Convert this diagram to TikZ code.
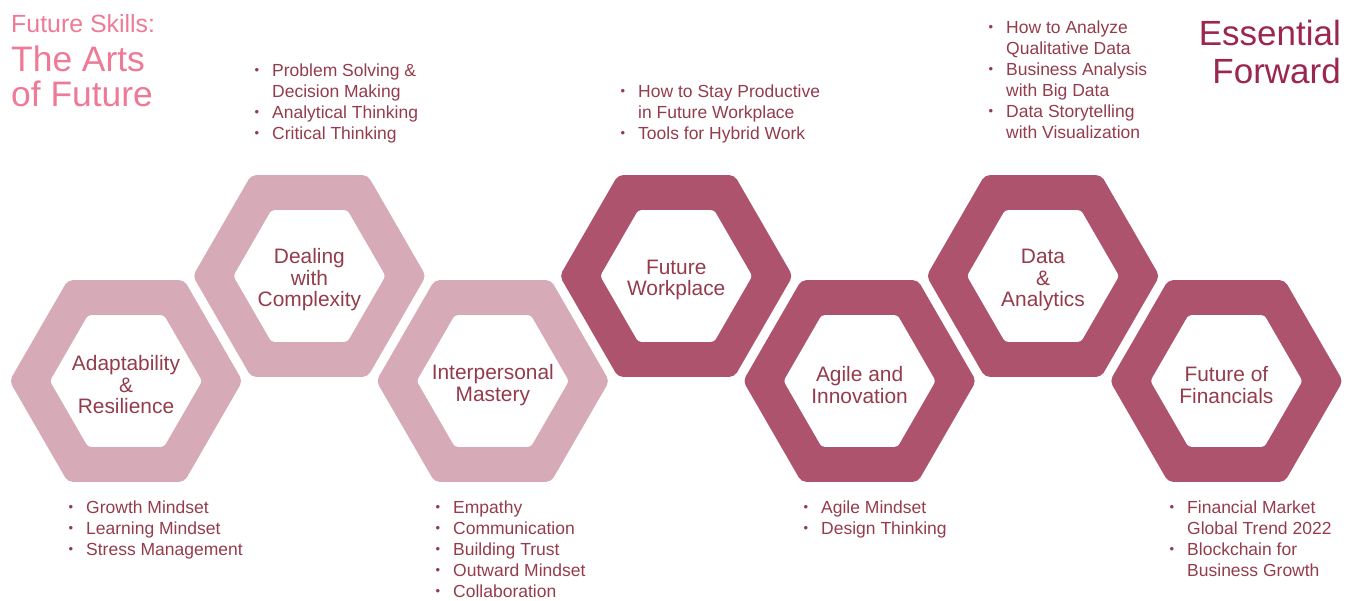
\documentclass[tikz,border=0pt]{standalone}
\usepackage{fontspec}
\setmainfont{Liberation Sans}
\usepackage{xcolor}
\usetikzlibrary{shapes.geometric,positioning}
\definecolor{softrose} {RGB}{214,170,182}
\definecolor{deeprose} {RGB}{173,83,109}
\definecolor{labelred} {RGB}{148,60,76}
\definecolor{titlepink}{RGB}{239,122,151}
\definecolor{brandred} {RGB}{155,38,80}
\newcommand{\skillbul}{\llap{\raisebox{1.2pt}{\fontsize{13}{13}\selectfont\textbullet}\hspace{13pt}}}
\tikzset{
  hexring/.style ={regular polygon, regular polygon sides=6, minimum size=233pt,
                   inner sep=0pt, rounded corners=5pt, draw=none},
  softring/.style={hexring, fill=softrose},
  deepring/.style={hexring, fill=deeprose},
  hexhole/.style ={regular polygon, regular polygon sides=6, minimum size=152pt,
                   inner sep=0pt, rounded corners=3pt, fill=white},
  hexlabel/.style={align=center, inner sep=0pt, text=labelred, yshift=-4pt,
                   font=\fontsize{20.9}{21.5}\selectfont},
  skilllist/.style={anchor=base west, inner sep=0pt, text=labelred,
                   font=\fontsize{17.5}{21}\selectfont},
}

\begin{document}
\begin{tikzpicture}[x=1pt,y=-1pt]
  \useasboundingbox (0,0) rectangle (1354,600);

  % titles
  \node[anchor=base west, inner sep=0pt, text=titlepink,
        font=\fontsize{24.9}{30}\selectfont] (sub) at (11,32) {Future Skills:};
  \node[anchor=base west, inner sep=0pt, text=titlepink,
        font=\fontsize{35.4}{32}\selectfont] (title) at (11,71)
        {\begin{tabular}[t]{@{}l@{}}The Arts\\of Future\end{tabular}};
  \node[anchor=base east, inner sep=0pt, text=brandred,
        font=\fontsize{35}{38}\selectfont] (brand) at (1341,45)
        {\begin{tabular}[t]{@{}r@{}}Essential\\Forward\end{tabular}};

  % hexagon rings
  \node[softring] (adapt)   at (126,381)   {};
  \node[softring] (complex) at (309.4,276) {};
  \node[softring] (interp)  at (492.8,381) {};
  \node[deepring] (work)    at (676.2,276) {};
  \node[deepring] (agile)   at (859.6,381) {};
  \node[deepring] (data)    at (1043,276)  {};
  \node[deepring] (fin)     at (1226.4,381){};

  \node[hexhole] (adapt-in)   at (adapt)   {};
  \node[hexhole] (complex-in) at (complex) {};
  \node[hexhole] (interp-in)  at (interp)  {};
  \node[hexhole] (work-in)    at (work)    {};
  \node[hexhole] (agile-in)   at (agile)   {};
  \node[hexhole] (data-in)    at (data)    {};
  \node[hexhole] (fin-in)     at (fin)     {};

  \node[hexlabel] (adapt-txt)   at (adapt)   {Adaptability\\\&\\Resilience};
  \node[hexlabel] (complex-txt) at (complex) {Dealing\\with\\Complexity};
  \node[hexlabel] (interp-txt)  at (interp)  {Interpersonal\\Mastery};
  \node[hexlabel] (work-txt)    at (work)    {Future\\Workplace};
  \node[hexlabel] (agile-txt)   at (agile)   {Agile and\\Innovation};
  \node[hexlabel] (data-txt)    at (data)    {Data\\\&\\Analytics};
  \node[hexlabel] (fin-txt)     at (fin)     {Future of\\Financials};

  % skill lists above
  \node[skilllist] (complex-list) at (272,76)
        {\begin{tabular}[t]{@{}l@{}}\skillbul Problem Solving \&\\Decision Making\\
         \skillbul Analytical Thinking\\\skillbul Critical Thinking\end{tabular}};
  \node[skilllist] (work-list) at (638,97)
        {\begin{tabular}[t]{@{}l@{}}\skillbul How to Stay Productive\\in Future Workplace\\
         \skillbul Tools for Hybrid Work\end{tabular}};
  \node[skilllist] (data-list) at (1006,33)
        {\begin{tabular}[t]{@{}l@{}}\skillbul How to Analyze\\Qualitative Data\\
         \skillbul Business Analysis\\with Big Data\\
         \skillbul Data Storytelling\\with Visualization\end{tabular}};

  % skill lists below
  \node[skilllist] (adapt-list) at (86,513)
        {\begin{tabular}[t]{@{}l@{}}\skillbul Growth Mindset\\\skillbul Learning Mindset\\
         \skillbul Stress Management\end{tabular}};
  \node[skilllist] (interp-list) at (453,513)
        {\begin{tabular}[t]{@{}l@{}}\skillbul Empathy\\\skillbul Communication\\
         \skillbul Building Trust\\\skillbul Outward Mindset\\
         \skillbul Collaboration\end{tabular}};
  \node[skilllist] (agile-list) at (821,513)
        {\begin{tabular}[t]{@{}l@{}}\skillbul Agile Mindset\\\skillbul Design Thinking\end{tabular}};
  \node[skilllist] (fin-list) at (1187,513)
        {\begin{tabular}[t]{@{}l@{}}\skillbul Financial Market\\Global Trend 2022\\
         \skillbul Blockchain for\\Business Growth\end{tabular}};
\end{tikzpicture}
\end{document}
